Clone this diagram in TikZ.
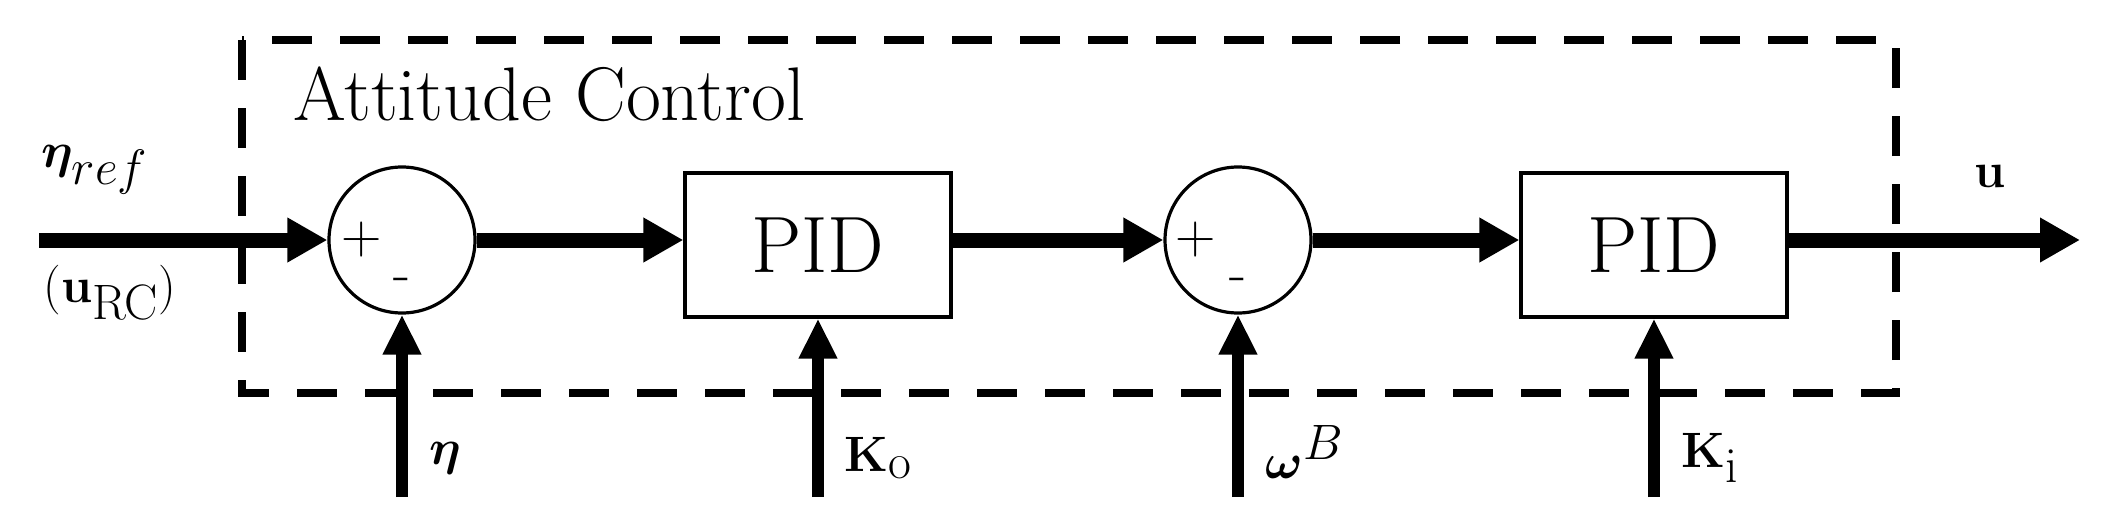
\documentclass[tikz,border=0pt]{standalone}
\usepackage{amsmath,bm}
\usetikzlibrary{arrows.meta}
\begin{document}
\begin{tikzpicture}[x=0.5pt,y=-0.5pt,
  blk/.style={draw,line width=1.6pt,minimum width=133pt,minimum height=72pt,inner sep=0pt,font=\fontsize{40}{40}\selectfont},
  sum/.style={draw,circle,line width=1.6pt,minimum size=73pt,inner sep=0pt},
  sig/.style={line width=7.5pt,-{Triangle[length=20pt,width=21pt]}},
  vsig/.style={line width=6pt,-{Triangle[length=20pt,width=18pt]}},
  lab/.style={font=\fontsize{36}{36}\selectfont,inner sep=0pt},
  sgn/.style={font=\fontsize{28}{28}\selectfont,inner sep=0pt}]
\useasboundingbox (0,0) rectangle (2102,530);
\draw[line width=3.8pt,dash pattern=on 20pt off 14pt] (242,40) rectangle (1896,393);
\node[anchor=base west,font=\fontsize{38}{38}\selectfont,inner sep=0pt] (title) at (293,120) {Attitude Control};
\node[sum] (s1) at (402,240) {};
\node[blk] (p1) at (818,245) {PID};
\node[sum] (s2) at (1238,240) {};
\node[blk] (p2) at (1654,245) {PID};
\node[sgn] (s1p) at (362,240) {+};
\node[sgn] (s1m) at (402,285) {-};
\node[sgn] (s2p) at (1196,240) {+};
\node[sgn] (s2m) at (1238,285) {-};
\coordinate (in) at (39,240);
\coordinate (out) at (2080,240);
\coordinate (b1) at (402,497);
\coordinate (b2) at (818,497);
\coordinate (b3) at (1238,497);
\coordinate (b4) at (1654,497);
\draw[sig] (in) -- (s1.west);
\draw[sig] (s1.east) -- (p1.west |- s1.east);
\draw[sig] (p1.east |- s1.east) -- (s2.west);
\draw[sig] (s2.east) -- (p2.west |- s2.east);
\draw[sig] (p2.east |- s2.east) -- (out);
\draw[vsig] (b1) -- (s1.south);
\draw[vsig] (b2) -- (p1.south);
\draw[vsig] (b3) -- (s2.south);
\draw[vsig] (b4) -- (p2.south);
\node[lab] (lref) at (95,170) {$\bm{\eta}_{ref}$};
\node[lab] (lrc) at (110,292) {$(\mathbf{u}_{\mathrm{RC}})$};
\node[lab] (leta) at (445,458) {$\bm{\eta}$};
\node[lab] (lko) at (878,458) {$\mathbf{K}_{\mathrm{o}}$};
\node[lab] (lw) at (1305,452) {$\bm{\omega}^{B}$};
\node[lab] (lki) at (1710,458) {$\mathbf{K}_{\mathrm{i}}$};
\node[lab] (lu) at (1990,176) {$\mathbf{u}$};
\end{tikzpicture}
\end{document}
